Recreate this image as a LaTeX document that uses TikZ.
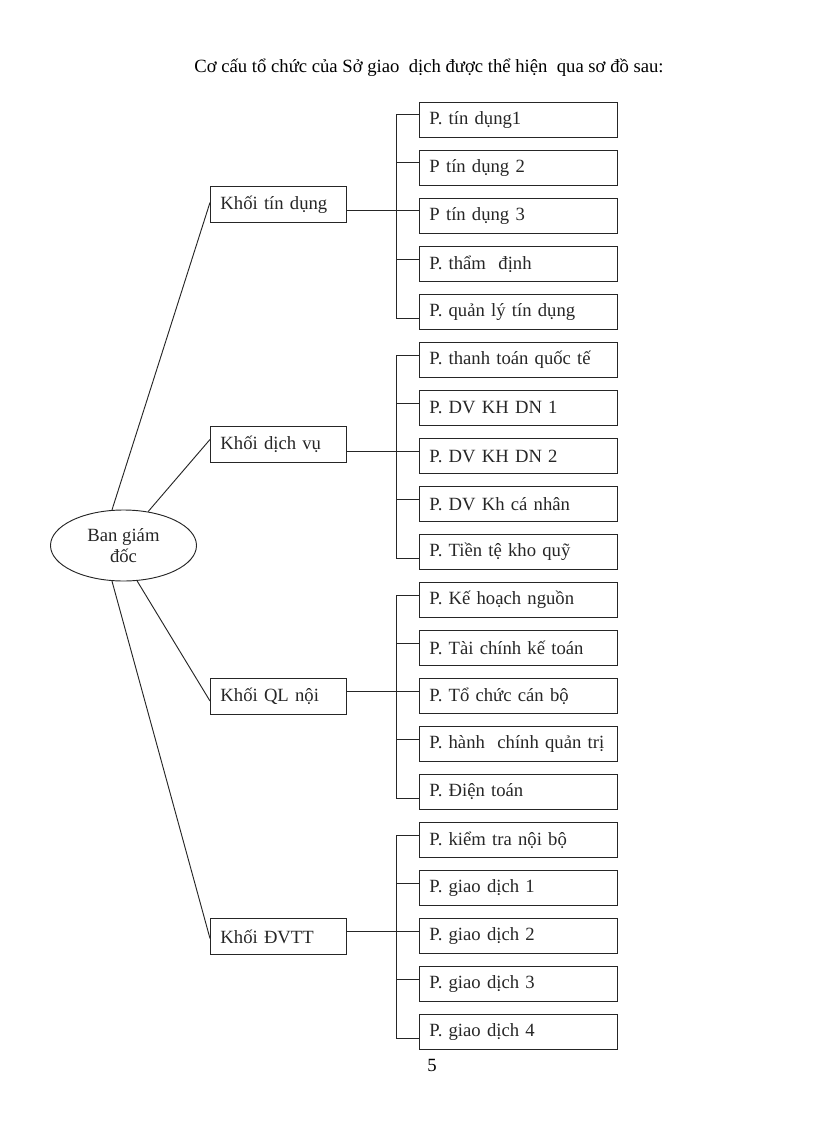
\documentclass[tikz,border=0pt]{standalone}
\usepackage{fontspec}
\setmainfont{Liberation Serif}
\usetikzlibrary{shapes.geometric,calc}
\tikzset{
  ln/.style={line width=0.7pt, black!85},
  pbox/.style={draw, ln, anchor=north west, inner xsep=7.5pt, inner ysep=0pt,
    text width=133.5pt, minimum height=26.25pt, align=left, font=\fontsize{14}{16}\selectfont},
  kbox/.style={draw, ln, anchor=north west, inner xsep=7.5pt, inner ysep=0pt,
    text width=87pt, minimum height=27pt, align=left, font=\fontsize{14}{16}\selectfont},
  boss/.style={draw, ln, ellipse, inner sep=0pt, minimum width=109.5pt, minimum height=53.25pt,
    align=center, font=\fontsize{14}{15.5}\selectfont},
}
\begin{document}
\begin{tikzpicture}[x=0.75pt,y=-0.75pt]
\useasboundingbox (0,0) rectangle (816,1123);
\node[anchor=base, font=\fontsize{14}{16}\selectfont] (title) at (429,73)
  {Cơ cấu tổ chức của Sở giao\ \ dịch được thể hiện\ \ qua sơ đồ sau:};
% boss
\node[boss] (e) at (123.5,545.5) {Ban giám\\đốc};
% khoi
\node[kbox] (k1) at (210,186) {Khối tín dụng};
\node[kbox] (k2) at (210,426) {Khối dịch vụ};
\node[kbox] (k3) at (210,678) {Khối QL nội};
\node[kbox] (k4) at (210,918) {Khối ĐVTT};
% departments
\node[pbox] (b1) at (419,102) {P. tín dụng1};
\node[pbox] (b2) at (419,150) {P tín dụng 2};
\node[pbox] (b3) at (419,198) {P tín dụng 3};
\node[pbox] (b4) at (419,246) {P. thẩm\ \ định};
\node[pbox] (b5) at (419,294) {P. quản lý tín dụng};
\node[pbox] (b6) at (419,342) {P. thanh toán quốc tế};
\node[pbox] (b7) at (419,390) {P. DV KH DN 1};
\node[pbox] (b8) at (419,438) {P. DV KH DN 2};
\node[pbox] (b9) at (419,486) {P. DV Kh cá nhân};
\node[pbox] (b10) at (419,534) {P. Tiền tệ kho quỹ};
\node[pbox] (b11) at (419,582) {P. Kế hoạch nguồn};
\node[pbox] (b12) at (419,630) {P. Tài chính kế toán};
\node[pbox] (b13) at (419,678) {P. Tổ chức cán bộ};
\node[pbox] (b14) at (419,726) {P. hành\ \ chính quản trị};
\node[pbox] (b15) at (419,774) {P. Điện toán};
\node[pbox] (b16) at (419,822) {P. kiểm tra nội bộ};
\node[pbox] (b17) at (419,870) {P. giao dịch 1};
\node[pbox] (b18) at (419,918) {P. giao dịch 2};
\node[pbox] (b19) at (419,966) {P. giao dịch 3};
\node[pbox] (b20) at (419,1014) {P. giao dịch 4};
% page number
\node[anchor=base, font=\fontsize{14}{16}\selectfont] (pg) at (432,1071) {5};
% brackets
\foreach \a/\b/\c/\d/\f/\k in {b1/b2/b3/b4/b5/k1, b6/b7/b8/b9/b10/k2, b11/b12/b13/b14/b15/k3, b16/b17/b18/b19/b20/k4}{
  \draw[ln] ([yshift=3.75pt]\a.west) -- ++(-23,0) |- ([yshift=-4.5pt]\f.west);
  \foreach \x in {\b,\c,\d}{\draw[ln] ([yshift=3.75pt]\x.west) -- ++(-23,0);}
  \coordinate (m) at ([yshift=3.75pt]\c.west);
  \draw[ln] (\k.east |- m) -- (m);
}
% boss connectors
\draw[ln] (e.108) -- ([yshift=1.5pt]k1.west);
\draw[ln] (e.54) -- ([yshift=3.75pt]k2.west);
\draw[ln] (e.-69) -- ([yshift=-3.4pt]k3.west);
\draw[ln] (e.-108) -- ([yshift=-1.5pt]k4.west);
\end{tikzpicture}
\end{document}
